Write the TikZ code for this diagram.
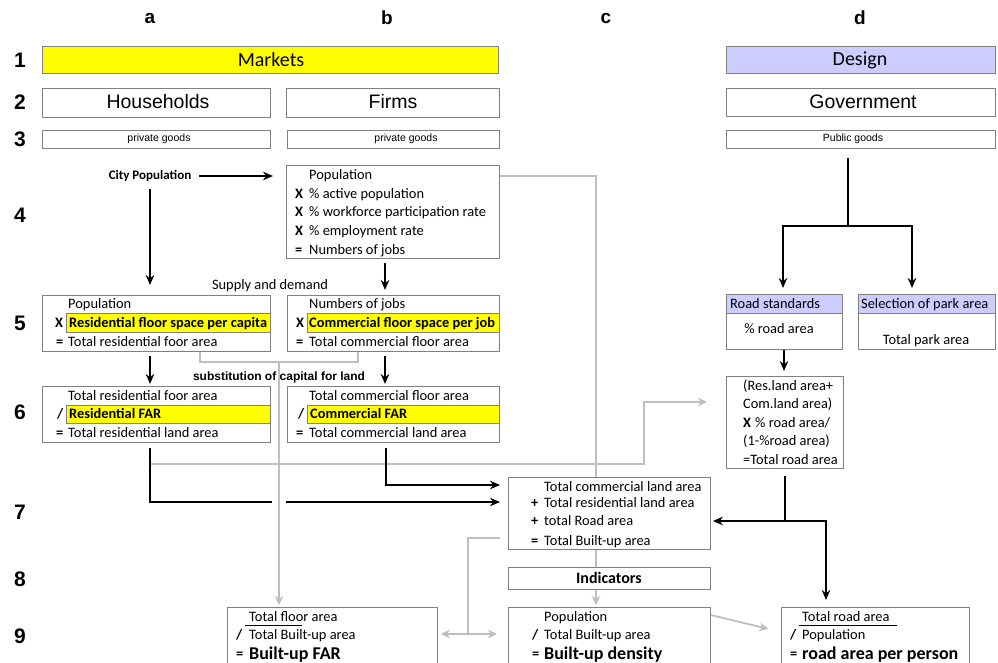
\documentclass[tikz,border=0pt]{standalone}
\usepackage{fontspec}
\setmainfont{Carlito}
\newfontfamily\arialf{Liberation Sans}
\usetikzlibrary{arrows.meta,calc}
\definecolor{boxgray}{HTML}{808080}
\definecolor{lgray}{HTML}{BEBEBE}
\definecolor{ylw}{HTML}{FFFF00}
\definecolor{lav}{HTML}{CCCCFF}
\newcommand\mkbox[6][]{%
  \pgfmathsetmacro\bxw{#5-#3}%
  \pgfmathsetmacro\bxh{#6-#4}%
  \node[box,minimum width=\bxw pt,minimum height=\bxh pt,#1] (#2) at (#3,#4) {};}
\tikzset{
  box/.style={draw=boxgray,line width=0.9pt,inner sep=0pt,anchor=north west,fill=white},
  txt/.style={inner sep=0pt,anchor=west,text height=9pt,text depth=0pt,font=\fontsize{14.4}{16}\selectfont},
  txtb/.style={txt,font=\fontsize{14.4}{16}\selectfont\bfseries},
  big/.style={inner sep=0pt,anchor=west,text height=11.5pt,text depth=0pt,font=\fontsize{18}{20}\selectfont\bfseries},
  ctr/.style={inner sep=0pt,anchor=center,font=\fontsize{14.4}{16}\selectfont},
  lbl/.style={inner sep=0pt,font=\arialf\bfseries\fontsize{19}{21}\selectfont},
  rlbl/.style={inner sep=0pt,font=\arialf\bfseries\fontsize{21}{23}\selectfont},
  bl/.style={draw=black,line width=1.8pt},
  ba/.style={bl,-{Stealth[length=10pt,width=8.5pt]}},
  gl/.style={draw=lgray,line width=1.8pt},
  ga/.style={gl,-{Stealth[length=9pt,width=8.5pt]}},
}
\begin{document}
\begin{tikzpicture}[x=1pt,y=-1pt]
\clip (0,0) rectangle (998,663);
\fill[white] (0,0) rectangle (998,663);

% column and row labels
\node[lbl] (ca) at (150,18) {a};
\node[lbl] (cb) at (387,18) {b};
\node[lbl] (cc) at (606,18) {c};
\node[lbl] (cd) at (860,18) {d};
\node[rlbl] (r1) at (20,60) {1};
\node[rlbl] (r2) at (20,102) {2};
\node[rlbl] (r3) at (20,139) {3};
\node[rlbl] (r4) at (20,215) {4};
\node[rlbl] (r5) at (20,323) {5};
\node[rlbl] (r6) at (20,412) {6};
\node[rlbl] (r7) at (20,512) {7};
\node[rlbl] (r8) at (20,579) {8};
\node[rlbl] (r9) at (20,636) {9};

% rows 1-3
\mkbox[fill=ylw]{mk1}{42}{46}{498}{73}
\node[ctr,font=\fontsize{20}{22}\selectfont] (tmk) at (271,60) {Markets};
\mkbox[fill=lav]{ds1}{726}{46}{995}{73}
\node[ctr,font=\fontsize{20}{22}\selectfont] (tds) at (860,60) {Design};
\mkbox{hh2}{42}{88}{270}{117}
\node[ctr,font=\arialf\fontsize{19.5}{21}\selectfont] (thh) at (158,102) {Households};
\mkbox{fm2}{286}{88}{499}{117}
\node[ctr,font=\arialf\fontsize{19.5}{21}\selectfont] (tfm) at (393,102) {Firms};
\mkbox{gv2}{726}{88}{995}{116}
\node[ctr,font=\arialf\fontsize{19.5}{21}\selectfont] (tgv) at (863,102) {Government};
\mkbox{pg3a}{42}{130}{270}{148}
\node[ctr,font=\arialf\fontsize{10.5}{12}\selectfont] (tpa) at (159,139) {private goods};
\mkbox{pg3b}{287}{130}{499}{148}
\node[ctr,font=\arialf\fontsize{10.5}{12}\selectfont] (tpb) at (406,139) {private goods};
\mkbox{pg3d}{726}{130}{995}{148}
\node[ctr,font=\arialf\fontsize{10.5}{12}\selectfont] (tpd) at (853,139) {Public goods};

% row 4
\node[ctr,font=\fontsize{13}{15}\selectfont\bfseries] (city) at (150,176) {City Population};
\mkbox{pop4}{286}{165}{499}{258}
\node[txt] (p4a) at (309,175) {Population};
\node[txtb] (p4xb) at (295,194) {X};
\node[txt] (p4b) at (309,194) {\% active population};
\node[txtb] (p4xc) at (295,212) {X};
\node[txt] (p4c) at (309,212) {\% workforce participation rate};
\node[txtb] (p4xd) at (295,231) {X};
\node[txt] (p4d) at (309,231) {\% employment rate};
\node[txtb] (p4xe) at (295,250) {=};
\node[txt] (p4e) at (309,250) {Numbers of jobs};

\node[ctr] (sd) at (270,286) {Supply and demand};

% row 5
\mkbox{res5}{42}{295}{270}{351}
\node[txt] (r5a) at (68,304) {Population};
\mkbox[fill=ylw,line width=0.7pt]{r5bar}{66}{313}{270}{332}
\node[txtb] (r5x) at (55,323) {X};
\node[txtb] (r5b) at (69,323) {Residential floor space per capita};
\node[txtb] (r5e) at (56,342) {=};
\node[txt] (r5c) at (68,342) {Total residential foor area};

\mkbox{com5}{287}{295}{499}{351}
\node[txt] (c5a) at (309,304) {Numbers of jobs};
\mkbox[fill=ylw,line width=0.7pt]{c5bar}{307}{313}{499}{332}
\node[txtb] (c5x) at (296,323) {X};
\node[txtb] (c5b) at (309,323) {Commercial floor space per job};
\node[txtb] (c5e) at (296,342) {=};
\node[txt] (c5c) at (309,342) {Total commercial floor area};

\node[ctr,font=\arialf\bfseries\fontsize{12}{14}\selectfont] (sub) at (279,377) {substitution of capital for land};

% row 6
\mkbox{res6}{42}{386}{270}{442}
\node[txt] (r6a) at (68,396) {Total residential foor area};
\mkbox[fill=ylw,line width=0.7pt]{r6bar}{66}{405}{270}{423}
\node[txtb] (r6s) at (57,414) {/};
\node[txtb] (r6b) at (69,414) {Residential FAR};
\node[txtb] (r6e) at (56,433) {=};
\node[txt] (r6c) at (68,433) {Total residential land area};

\mkbox{com6}{287}{386}{499}{442}
\node[txt] (c6a) at (309,396) {Total commercial floor area};
\mkbox[fill=ylw,line width=0.7pt]{c6bar}{307}{405}{499}{423}
\node[txtb] (c6s) at (298,414) {/};
\node[txtb] (c6b) at (310,414) {Commercial FAR};
\node[txtb] (c6e) at (296,433) {=};
\node[txt] (c6c) at (309,433) {Total commercial land area};

% column d
\mkbox{rs5}{726}{294}{842}{349}
\mkbox[fill=lav]{rs5h}{726}{294}{842}{313}
\node[txt] (rsh) at (730,304) {Road standards};
\node[ctr] (rsb) at (779,329) {\% road area};
\mkbox{pk5}{858}{294}{995}{349}
\mkbox[fill=lav]{pk5h}{858}{294}{995}{313}
\node[txt] (pkh) at (861,304) {Selection of park area};
\node[ctr] (pkb) at (926,341) {Total park area};

\mkbox{rd6}{726}{376}{843}{468}
\node[txt] (d6a) at (743,386) {(Res.land area+};
\node[txt] (d6b) at (743,404) {Com.land area)};
\node[txtb] (d6x) at (743,423) {X};
\node[txt] (d6c) at (755,423) {\% road area/};
\node[txt] (d6d) at (743,441) {(1-\%road area)};
\node[txt] (d6e) at (743,460) {=Total road area};

% row 7-9
\mkbox{tot7}{508}{477}{710}{549}
\node[txt] (t7a) at (544,487) {Total commercial land area};
\node[txtb] (t7p1) at (531,503) {+};
\node[txt] (t7b) at (544,503) {Total residential land area};
\node[txtb] (t7p2) at (531,521) {+};
\node[txt] (t7c) at (544,521) {total Road area};
\node[txtb] (t7e) at (531,541) {=};
\node[txt] (t7d) at (544,541) {Total Built-up area};

\mkbox{ind8}{508}{567}{710}{589}
\node[ctr,font=\fontsize{16}{18}\selectfont\bfseries] (t8) at (609,578) {Indicators};

\mkbox{bfar9}{227}{607}{437}{690}
\node[txt] (b9a) at (249,617) {Total floor area};
\draw[black,line width=0.6pt] (245,625) -- (302,625);
\node[txtb] (b9s) at (236,635) {/};
\node[txt] (b9b) at (249,635) {Total Built-up area};
\node[txtb] (b9e) at (236,654) {=};
\node[big] (b9c) at (249,654) {Built-up FAR};

\mkbox{dens9}{508}{607}{710}{690}
\node[txt] (d9a) at (544,617) {Population};
\node[txtb] (d9s) at (532,635) {/};
\node[txt] (d9b) at (544,635) {Total Built-up area};
\node[txtb] (d9e) at (532,654) {=};
\node[big] (d9c) at (544,654) {Built-up density};

\mkbox{rpp9}{781}{607}{969}{690}
\node[txt] (q9a) at (802,617) {Total road area};
\draw[black,line width=0.6pt] (799,625) -- (897,625);
\node[txtb] (q9s) at (790,635) {/};
\node[txt] (q9b) at (802,635) {Population};
\node[txtb] (q9e) at (790,654) {=};
\node[big] (q9c) at (802,654) {road area per person};

% gray connectors
\draw[gl] ($(pop4.north east)+(0,11)$) -| ($(tot7.north west)+(88,0)$);
\coordinate (brk) at (279,362);
\draw[gl] ($(res5.south west)+(158,0)$) |- (brk) -| ($(com5.south west)+(71,0)$);
\draw[ga,shorten >=2pt] (brk) -- (brk |- bfar9.north);
\draw[ga,shorten >=19pt] ($(res6.south west)+(108,21)$) -| ($(rd6.north west)+(-82,26)$) -- ($(rd6.north west)+(0,26)$);
\draw[gl] ($(tot7.south west)+(88,0)$) -- ($(ind8.north west)+(88,0)$);
\draw[ga,shorten >=2pt] ($(ind8.south west)+(88,0)$) -- ($(dens9.north west)+(88,0)$);
\coordinate (dj) at (468,634);
\draw[gl,shorten <=8pt] ($(tot7.south west)+(0,-12)$) -| (dj);
\draw[gl,{Stealth[length=9pt,width=8.5pt]}-{Stealth[length=9pt,width=8.5pt]},shorten <=3pt,shorten >=11pt] (dj -| bfar9.east) -- (dj -| dens9.west);
\draw[ga,shorten >=13pt] ($(dens9.north east)+(0,8)$) -- ($(rpp9.north west)+(0,25)$);

% black connectors
\draw[ba,shorten <=7pt,shorten >=10pt] (city.south) -- (city.south |- res5.north);
\draw[ba,shorten <=8pt,shorten >=13pt] (city.east) -- (city.east -| pop4.west);
\draw[ba,shorten <=4pt,shorten >=5pt] ($(pop4.south west)+(99,0)$) -- ($(com5.north west)+(98,0)$);
\draw[ba,shorten <=4pt,shorten >=2pt] ($(res5.south west)+(108,0)$) -- ($(res6.north west)+(108,0)$);
\draw[ba,shorten <=4pt,shorten >=2pt] ($(com5.south west)+(98,0)$) -- ($(com6.north west)+(98,0)$);
\coordinate (gapL) at (272,502);
\coordinate (gapR) at (286,502);
\draw[bl,shorten <=5pt] ($(res6.south west)+(108,0)$) |- (gapL);
\draw[ba,shorten >=8pt] (gapR) -- (gapR -| tot7.west);
\draw[ba,shorten <=5pt,shorten >=8pt] ($(com6.south west)+(99,0)$) |- ($(tot7.north west)+(0,8)$);

\coordinate (dj2) at (848,226);
\draw[bl,shorten <=9pt] ($(pg3d.south west)+(122,0)$) -- (dj2);
\draw[ba,shorten >=6pt] (dj2) -| ($(rs5.north west)+(57,0)$);
\draw[ba,shorten >=6pt] (dj2) -| ($(pk5.north west)+(54,0)$);
\draw[ba,shorten >=5pt] ($(rs5.south west)+(58,0)$) -- ($(rd6.north west)+(58,0)$);
\coordinate (dj3) at (785,521);
\draw[bl,shorten <=7pt] ($(rd6.south west)+(59,0)$) -- (dj3);
\draw[ba,shorten >=2pt] (dj3) -- (dj3 -| tot7.east);
\draw[ba,shorten >=7pt] (dj3) -| ($(rpp9.north west)+(45,0)$);
\end{tikzpicture}
\end{document}
